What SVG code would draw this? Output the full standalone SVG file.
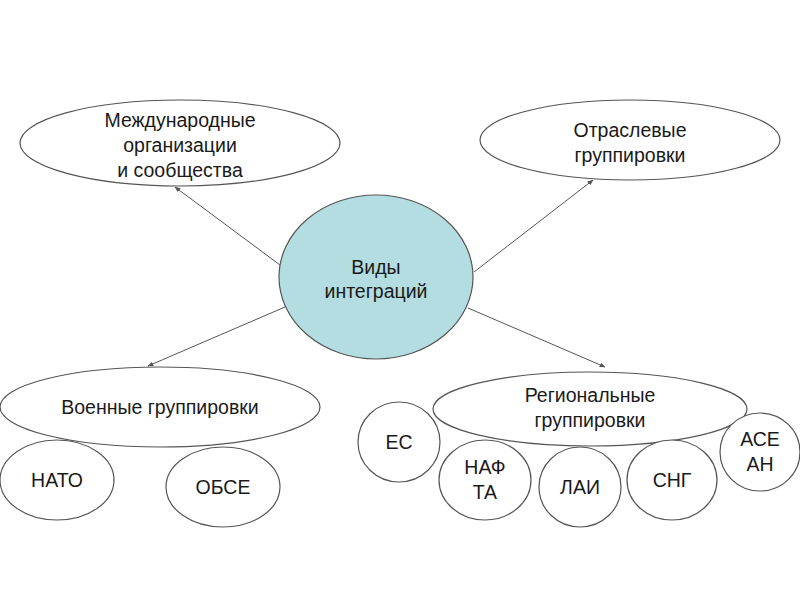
<svg xmlns="http://www.w3.org/2000/svg" width="800" height="600" viewBox="0 0 800 600">
<defs>
<style>
.n{fill:#fff;stroke:#555;stroke-width:1.2}
.c{fill:#b3dde0;stroke:#555;stroke-width:1.2}
text{font-family:"Liberation Sans",Arial,sans-serif;font-size:19.5px;fill:#1a1a1a;text-anchor:middle}
.e{stroke:#555;stroke-width:1;fill:none;marker-end:url(#a)}
</style>
<marker id="a" viewBox="0 0 10 10" refX="9" refY="5" markerWidth="6" markerHeight="6" orient="auto">
<path d="M0,1 L10,5 L0,9 z" fill="#555"/>
</marker>
</defs>
<rect width="800" height="600" fill="#fff"/>
<g id="edges">
<line class="e" x1="280" y1="265" x2="175" y2="187"/>
<line class="e" x1="474" y1="272" x2="593" y2="180"/>
<line class="e" x1="285" y1="307" x2="148" y2="366"/>
<line class="e" x1="468" y1="308" x2="605" y2="367"/>
</g>
<g id="center">
<ellipse class="c" cx="376" cy="277" rx="97" ry="82"/>
<text x="376" y="274">Виды</text>
<text x="376" y="298">интеграций</text>
</g>
<g id="intl">
<ellipse class="n" cx="180" cy="143" rx="160" ry="43"/>
<text x="180" y="127">Международные</text>
<text x="180" y="152">организации</text>
<text x="180" y="177">и сообщества</text>
</g>
<g id="branch">
<ellipse class="n" cx="630" cy="140" rx="150" ry="40"/>
<text x="630" y="137">Отраслевые</text>
<text x="630" y="162">группировки</text>
</g>
<g id="military">
<ellipse class="n" cx="160" cy="407" rx="160" ry="40"/>
<text x="160" y="414">Военные группировки</text>
</g>
<g id="nato">
<ellipse class="n" cx="57" cy="480" rx="57" ry="40"/>
<text x="57" y="487">НАТО</text>
</g>
<g id="obse">
<ellipse class="n" cx="223" cy="487" rx="57" ry="40"/>
<text x="223" y="494">ОБСЕ</text>
</g>
<g id="regional">
<ellipse class="n" cx="590" cy="409" rx="157" ry="37"/>
<text x="590" y="402">Региональные</text>
<text x="590" y="427">группировки</text>
</g>
<g id="es">
<ellipse class="n" cx="399" cy="442" rx="41" ry="40"/>
<text x="399" y="449">ЕС</text>
</g>
<g id="nafta">
<ellipse class="n" cx="485" cy="480" rx="46" ry="40"/>
<text x="485" y="474">НАФ</text>
<text x="485" y="499">ТА</text>
</g>
<g id="lai">
<ellipse class="n" cx="580" cy="487" rx="41" ry="40"/>
<text x="580" y="494">ЛАИ</text>
</g>
<g id="sng">
<ellipse class="n" cx="672" cy="480" rx="45" ry="40"/>
<text x="672" y="487">СНГ</text>
</g>
<g id="asean">
<ellipse class="n" cx="760" cy="452" rx="40" ry="39"/>
<text x="760" y="446">АСЕ</text>
<text x="760" y="471">АН</text>
</g>
</svg>
